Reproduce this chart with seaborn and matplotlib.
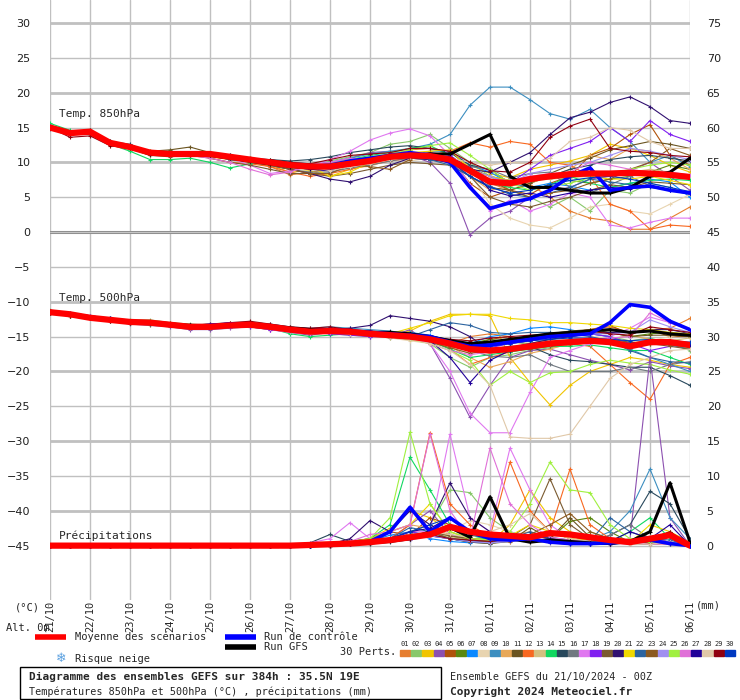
import matplotlib
matplotlib.use("Agg")

import matplotlib.pyplot as plt
import numpy as np
import seaborn as sns
from matplotlib.patches import Rectangle

# ── Data (12h steps, 21/10 00Z -> 06/11 00Z) ──
DATES = ["21/10", "22/10", "23/10", "24/10", "25/10", "26/10", "27/10", "28/10", "29/10",
         "30/10", "31/10", "01/11", "02/11", "03/11", "04/11", "05/11", "06/11"]
STEPS = np.arange(33) * 0.5

COLORS = ["#e67e30", "#88c86a", "#f0c400", "#8c50b0", "#b0520a", "#5a8810", "#0a88ff", "#e8d4b0",
          "#3c8ec0", "#e8a858", "#6a5420", "#f86820", "#d4c080", "#10d860", "#28485c", "#707880",
          "#e078f0", "#8020f0", "#7a5a30", "#301070", "#f0d800", "#2c64a0", "#8c5a20", "#a090f0",
          "#a0f040", "#e070d8", "#200098", "#e0c8a8", "#900010", "#0038c0"]

T850_MEAN = [15.0, 14.2, 14.4, 12.8, 12.2, 11.4, 11.2, 11.2, 11.2, 10.8, 10.4, 10.0, 9.6, 9.4, 9.4, 9.8, 10.2,
             10.8, 11.0, 10.9, 10.4, 8.8, 7.2, 7.0, 7.6, 8.0, 8.3, 8.4, 8.4, 8.5, 8.4, 8.2, 7.9]
T850_CTRL = [15.0, 14.2, 14.4, 12.8, 12.2, 11.4, 11.2, 11.2, 11.2, 10.8, 10.4, 10.0, 9.6, 9.4, 9.6, 10.2, 10.6,
             11.0, 11.4, 11.0, 10.0, 6.4, 3.4, 4.2, 4.8, 6.0, 8.0, 9.2, 6.0, 6.4, 6.6, 6.0, 5.6]
T850_GFS = [15.0, 14.2, 14.4, 12.6, 12.2, 11.2, 11.2, 11.2, 11.0, 10.6, 10.2, 9.8, 9.4, 9.2, 9.4, 9.8, 10.4,
            10.8, 11.0, 11.2, 11.2, 12.6, 14.0, 8.0, 6.4, 6.4, 6.0, 5.6, 5.6, 6.4, 8.0, 8.6, 10.6]
T850_PERTS = [
    "15.2 14.0 14.6 12.6 12.0 11.0 11.5 11.0 11.4 10.4 10.0 9.4 8.2 8.6 9.0 9.6 10.4 11.0 11.8 12.0 11.6 9.0 7.0 6.0 6.8 5.0 3.0 2.0 1.6 0.4 0.4 2.0 3.6",
    "15.4 14.2 14.2 13.0 12.4 11.6 11.0 11.4 11.0 10.8 10.6 10.2 9.8 9.8 10.2 10.8 11.4 12.6 13.0 14.0 12.0 10.0 8.0 6.0 5.0 3.6 5.0 3.0 6.0 5.6 7.0 6.4 5.4",
    "15.0 14.4 14.0 12.6 12.0 11.4 11.0 11.0 10.8 10.4 10.0 9.6 8.6 8.8 8.0 9.0 9.6 10.6 10.8 11.0 10.4 9.6 8.4 7.8 9.0 9.6 10.2 11.0 12.6 12.0 11.0 9.6 8.6",
    "15.2 14.0 14.2 12.8 12.4 11.2 11.4 11.2 11.0 10.8 10.6 10.2 9.4 9.6 10.0 10.6 11.4 11.6 11.0 10.0 7.0 -0.4 2.0 3.0 5.0 6.0 6.4 7.6 8.0 8.8 10.0 8.0 6.0",
    "15.0 14.4 14.6 12.8 12.2 11.2 11.0 11.2 11.2 11.0 10.4 9.8 9.8 9.6 9.4 10.0 10.0 10.4 11.2 11.0 10.6 7.0 5.0 6.0 5.4 7.0 8.0 11.0 12.0 14.0 15.4 11.0 9.6",
    "15.2 14.2 14.4 12.6 12.0 11.4 11.6 11.2 11.4 10.8 10.4 10.0 9.2 9.2 9.6 10.0 10.6 11.0 11.4 11.0 10.8 9.2 8.0 7.4 7.0 8.0 7.4 7.0 7.6 8.0 8.6 9.6 9.0",
    "15.0 14.2 14.2 12.6 12.2 11.4 11.0 11.0 11.0 10.4 10.2 9.8 9.4 9.0 9.0 9.6 10.0 10.6 11.0 11.6 11.6 9.6 8.6 7.0 6.4 7.0 6.6 6.0 6.4 7.0 7.6 7.2 5.0",
    "15.0 14.2 14.0 12.4 12.0 11.0 11.0 11.0 10.8 10.6 10.2 9.6 9.0 9.0 8.6 9.2 9.4 10.4 10.2 10.6 10.0 8.4 4.0 2.0 1.0 0.6 2.0 3.6 4.0 3.0 2.6 4.0 5.4",
    "15.2 14.4 14.4 13.0 12.4 11.6 11.6 11.4 11.2 11.0 10.6 10.2 9.8 9.6 10.0 10.6 11.2 11.6 12.0 12.6 14.0 18.2 20.8 20.8 19.0 17.0 16.2 17.6 15.0 13.0 10.0 11.0 9.4",
    "15.0 14.2 14.2 12.8 12.2 11.6 11.4 11.4 11.2 10.8 10.6 10.2 9.6 9.6 9.6 10.0 10.4 10.8 11.0 10.6 10.0 8.0 6.0 6.6 7.0 8.0 9.0 11.0 10.4 12.0 11.6 10.6 9.0",
    "15.0 14.0 14.2 12.8 12.4 11.6 11.8 12.2 11.4 10.8 10.4 10.0 9.6 9.2 9.6 10.2 10.6 11.0 11.2 10.8 10.0 8.0 6.4 6.0 7.0 8.4 9.6 10.6 11.8 12.4 13.0 12.6 12.0",
    "15.0 14.4 14.2 12.6 12.0 11.2 11.0 11.4 10.6 10.0 9.8 9.4 8.6 8.0 8.4 9.0 9.6 10.2 10.6 11.0 11.6 12.8 12.2 13.0 12.6 10.0 9.6 8.0 4.0 3.0 0.4 1.0 0.8",
    "15.0 14.2 14.4 12.6 12.2 11.4 11.2 11.2 11.0 10.6 10.2 9.8 9.4 9.0 9.2 9.8 10.0 10.6 10.6 10.4 10.0 8.4 7.6 7.0 7.4 7.6 7.8 8.0 8.4 8.6 9.0 8.6 8.0",
    "15.6 14.6 14.0 12.6 11.6 10.4 10.4 10.6 10.0 9.2 9.8 10.4 9.8 9.6 9.6 10.4 11.0 11.4 12.0 12.4 11.0 9.0 7.0 6.4 6.0 6.8 8.0 7.0 6.4 7.0 7.4 7.6 7.4",
    "15.0 14.2 14.6 13.0 12.6 11.4 11.4 11.4 11.4 11.0 10.6 10.4 10.2 10.4 10.8 11.4 11.8 12.2 12.4 12.0 11.4 9.6 9.0 7.0 7.4 8.0 9.0 9.6 10.4 10.8 11.0 10.6 10.2",
    "14.8 14.0 14.2 12.6 12.2 11.0 11.0 11.2 11.0 10.4 10.0 9.6 9.0 8.6 8.6 9.2 9.6 10.2 10.6 10.4 10.2 9.4 9.0 7.8 8.4 8.6 6.4 5.6 6.8 8.0 6.6 6.0 5.4",
    "15.2 14.4 14.4 12.8 12.4 11.6 11.4 11.4 11.2 10.6 9.6 8.4 8.8 9.4 10.4 11.6 13.2 14.2 14.8 13.8 11.0 6.8 3.0 4.6 3.0 4.0 5.6 5.0 1.0 0.6 1.4 2.0 2.0",
    "15.0 14.2 14.4 12.8 12.2 11.4 11.4 11.2 11.2 10.8 10.6 10.2 9.6 9.2 9.2 9.6 10.0 10.6 11.0 11.4 11.0 9.0 8.0 7.0 9.0 11.0 12.0 13.0 15.0 13.0 16.0 14.0 13.0",
    "15.0 14.0 14.2 12.6 12.0 11.0 10.8 11.0 10.6 10.0 9.6 9.0 8.4 8.4 8.0 8.4 9.0 9.6 10.0 9.8 9.6 8.0 5.0 4.0 3.6 4.4 5.0 6.0 6.8 6.4 7.2 7.0 6.8",
    "15.0 14.0 14.2 12.8 12.4 11.4 11.4 11.4 11.2 10.8 10.4 9.6 9.0 8.4 7.6 7.2 8.0 9.6 10.6 10.4 10.0 9.0 8.6 10.0 11.4 14.0 16.4 17.2 18.6 19.4 18.0 16.0 15.6",
    "15.0 14.2 14.4 12.6 12.2 11.6 11.2 11.2 11.2 10.8 10.6 10.2 9.8 9.4 8.0 8.6 10.0 11.0 11.4 11.6 11.8 9.0 8.0 7.4 7.8 8.2 8.6 8.0 7.6 7.6 8.0 7.4 6.8",
    "15.0 14.4 14.6 12.8 12.2 11.4 11.2 11.4 11.2 10.8 10.4 10.2 10.0 9.8 9.6 10.0 10.4 10.8 11.2 10.4 9.6 8.0 6.6 5.4 5.0 5.6 6.4 7.6 7.2 6.8 6.4 6.0 5.6",
    "15.0 14.2 14.6 12.8 12.2 11.2 11.2 11.2 11.0 10.6 10.0 9.6 9.0 8.4 8.4 9.6 9.4 9.0 10.4 11.4 10.6 8.6 7.4 6.0 5.0 5.6 6.0 7.0 7.6 9.0 10.0 12.0 11.0",
    "15.2 14.4 14.4 12.8 12.4 11.4 11.4 11.2 11.0 10.8 10.4 10.2 9.4 9.6 10.0 10.6 10.4 11.2 10.8 11.2 10.4 9.0 8.0 7.0 8.4 9.0 9.6 10.0 11.0 12.0 11.6 11.0 10.4",
    "15.0 14.2 14.2 12.8 12.2 11.4 11.0 11.2 11.0 10.6 10.4 10.0 9.6 9.6 9.8 10.4 10.8 11.2 11.8 12.4 12.8 11.0 9.0 7.0 6.0 6.6 7.0 7.8 8.4 9.0 9.6 10.0 9.6",
    "15.0 14.2 14.4 12.6 12.2 11.2 11.0 11.0 10.6 10.0 9.0 8.2 8.6 9.6 10.0 10.6 10.2 10.6 11.0 11.2 10.4 8.6 7.6 7.4 8.0 8.4 8.6 10.0 9.6 9.0 8.6 8.6 8.2",
    "15.0 14.0 14.2 12.8 12.2 11.4 11.2 11.4 11.0 10.6 10.4 10.0 9.4 9.0 8.8 9.6 10.0 10.6 11.0 11.0 10.8 9.2 6.0 5.2 5.6 5.0 5.6 6.0 6.4 6.2 6.6 6.0 5.6",
    "15.0 14.2 14.2 12.8 12.4 11.4 11.2 11.2 11.0 10.6 10.4 10.0 9.6 9.4 8.8 9.4 9.8 10.4 10.8 11.0 10.6 10.0 9.6 10.0 9.8 10.6 13.0 13.6 15.0 14.6 13.0 12.0 12.0",
    "15.0 13.6 13.8 12.4 12.0 11.2 11.0 11.0 11.0 10.6 10.4 10.4 10.0 9.8 10.4 11.0 11.2 11.4 12.0 12.0 11.6 10.0 8.8 8.6 10.0 13.6 15.2 16.2 12.0 11.6 11.4 11.0 10.8",
    "15.2 14.4 14.4 12.8 12.2 11.4 11.4 11.4 11.2 10.8 10.4 10.0 9.8 9.6 9.4 9.8 10.2 10.6 11.0 10.8 10.2 8.0 6.4 5.6 6.0 6.8 7.4 7.8 8.0 7.6 7.0 6.4 5.8",
]

T500_MEAN = [-11.5, -11.8, -12.3, -12.6, -12.9, -13.0, -13.3, -13.6, -13.6, -13.4, -13.3, -13.6, -14.0, -14.3, -14.2,
             -14.3, -14.6, -14.8, -15.0, -15.4, -16.0, -16.8, -17.0, -16.8, -16.4, -16.0, -15.8, -15.6, -15.8, -16.4,
             -15.8, -15.8, -16.2]
T500_CTRL = [-11.5, -11.8, -12.2, -12.6, -12.8, -13.0, -13.2, -13.6, -13.4, -13.2, -13.2, -13.6, -14.0, -14.2, -14.0,
             -14.2, -14.4, -14.6, -14.8, -15.0, -15.8, -16.4, -16.2, -15.8, -15.4, -15.0, -14.8, -14.6, -13.0, -10.4,
             -10.8, -12.8, -14.0]
T500_GFS = [-11.4, -11.8, -12.2, -12.6, -12.8, -13.0, -13.2, -13.4, -13.4, -13.2, -13.2, -13.6, -13.8, -14.0, -14.0,
            -14.2, -14.4, -14.4, -14.6, -15.0, -15.6, -16.0, -15.8, -15.4, -15.0, -14.6, -14.4, -14.2, -14.0, -14.4,
            -14.2, -14.6, -14.8]
T500_PERTS = [
    "-11.4 -12.0 -12.4 -12.4 -13.0 -13.2 -13.0 -13.4 -13.8 -13.0 -13.0 -13.4 -14.0 -14.6 -14.0 -14.4 -14.8 -15.0 -14.4 -15.6 -16.0 -15.0 -14.6 -15.0 -15.6 -14.8 -14.4 -14.0 -13.6 -14.4 -14.0 -13.8 -12.4",
    "-11.2 -11.6 -12.2 -12.4 -12.6 -12.6 -13.0 -13.2 -13.4 -13.2 -13.0 -13.4 -13.6 -14.0 -14.6 -14.8 -15.0 -14.4 -14.6 -16.0 -18.0 -19.4 -18.0 -17.6 -17.0 -16.6 -16.2 -15.4 -15.0 -15.6 -15.2 -16.0 -17.0",
    "-11.6 -12.0 -12.4 -12.8 -13.0 -13.4 -13.4 -13.8 -13.4 -13.2 -13.6 -14.0 -14.2 -14.0 -13.8 -14.2 -14.4 -14.6 -14.2 -12.8 -11.8 -11.8 -12.0 -18.0 -21.6 -24.8 -22.0 -20.0 -19.0 -18.0 -18.4 -19.0 -19.4",
    "-11.6 -12.0 -12.4 -12.8 -13.2 -13.4 -13.6 -14.0 -14.0 -13.8 -13.6 -14.0 -14.4 -14.8 -14.4 -14.6 -15.0 -15.0 -14.0 -16.0 -21.0 -26.6 -22.0 -18.0 -17.0 -16.8 -17.6 -18.4 -19.0 -19.8 -18.6 -19.2 -19.6",
    "-11.4 -11.8 -12.2 -12.4 -12.8 -12.8 -13.0 -13.4 -13.2 -13.0 -13.0 -13.4 -13.6 -14.0 -14.0 -14.4 -14.4 -14.8 -15.0 -15.6 -16.2 -16.4 -15.4 -15.0 -15.6 -15.0 -14.4 -14.0 -13.4 -14.6 -14.0 -15.0 -15.0",
    "-11.6 -11.8 -12.4 -12.6 -13.0 -13.0 -13.2 -13.6 -13.8 -13.4 -13.4 -13.8 -14.2 -14.6 -14.4 -14.6 -14.8 -15.2 -15.4 -15.8 -16.4 -16.0 -15.4 -15.8 -16.0 -15.4 -15.0 -14.6 -14.4 -15.0 -14.6 -14.4 -14.8",
    "-11.4 -11.8 -12.0 -12.4 -12.8 -13.0 -13.2 -13.4 -13.4 -13.2 -13.2 -13.4 -13.8 -14.0 -14.0 -14.2 -14.4 -14.6 -14.4 -14.8 -15.6 -16.0 -15.0 -14.6 -13.8 -13.6 -14.0 -14.6 -15.0 -16.0 -15.4 -16.2 -16.8",
    "-11.4 -11.6 -12.2 -12.6 -13.0 -13.2 -13.4 -13.4 -13.2 -13.0 -13.2 -13.8 -14.2 -14.4 -14.4 -14.6 -14.8 -15.2 -15.6 -16.0 -16.6 -17.4 -17.0 -16.4 -16.0 -15.6 -15.4 -15.0 -15.2 -15.8 -15.6 -15.0 -14.6",
    "-11.6 -11.8 -12.4 -12.8 -13.0 -13.2 -13.4 -13.6 -13.4 -13.2 -13.0 -13.2 -13.6 -13.8 -13.6 -13.8 -14.0 -14.2 -14.6 -15.0 -15.4 -16.0 -16.4 -16.0 -15.6 -15.2 -14.8 -14.6 -15.0 -16.8 -18.0 -19.0 -20.0",
    "-11.4 -11.8 -12.2 -12.6 -12.8 -13.0 -13.4 -13.8 -13.6 -13.6 -13.4 -13.6 -14.0 -14.4 -14.2 -14.4 -14.8 -15.0 -15.4 -15.8 -16.4 -18.0 -19.4 -18.6 -17.4 -16.8 -16.0 -15.8 -15.4 -14.8 -15.4 -16.0 -16.4",
    "-11.6 -12.0 -12.4 -12.8 -13.0 -13.0 -13.2 -13.4 -13.4 -13.2 -13.2 -13.6 -14.0 -14.2 -14.0 -14.2 -14.4 -14.4 -14.8 -15.4 -16.4 -17.0 -16.2 -15.8 -15.0 -14.6 -14.2 -14.0 -14.4 -15.0 -14.8 -14.8 -15.0",
    "-11.6 -11.8 -12.2 -12.6 -12.8 -13.0 -13.2 -13.6 -13.6 -13.4 -13.4 -13.8 -14.2 -14.4 -14.4 -14.4 -14.6 -14.8 -15.0 -15.4 -16.8 -19.0 -18.0 -17.2 -16.6 -16.2 -16.0 -16.4 -19.0 -21.6 -24.0 -19.0 -18.0",
    "-11.4 -11.8 -12.2 -12.6 -12.8 -13.0 -13.4 -13.6 -13.6 -13.6 -13.4 -13.6 -14.0 -14.4 -14.4 -14.6 -14.8 -15.0 -15.2 -15.6 -16.2 -16.8 -17.4 -17.0 -16.6 -16.2 -15.6 -15.4 -15.6 -15.8 -16.0 -15.6 -15.2",
    "-11.6 -12.0 -12.2 -12.6 -13.0 -13.2 -13.4 -13.6 -13.6 -13.4 -13.4 -13.8 -14.6 -15.0 -14.8 -14.6 -14.8 -15.0 -15.2 -15.6 -16.8 -18.0 -17.6 -17.2 -16.8 -16.4 -16.4 -16.2 -16.6 -17.0 -17.0 -18.0 -19.0",
    "-11.4 -11.8 -12.2 -12.6 -12.8 -13.0 -13.2 -13.4 -13.4 -13.2 -13.2 -13.6 -14.0 -14.2 -14.2 -14.4 -14.6 -14.8 -15.0 -15.4 -16.0 -16.6 -16.8 -16.4 -16.4 -17.6 -18.4 -18.6 -19.0 -19.4 -19.4 -20.6 -22.0",
    "-11.6 -11.8 -12.2 -12.6 -12.8 -13.0 -13.4 -13.6 -13.6 -13.4 -13.4 -13.8 -14.0 -14.2 -14.2 -14.4 -14.8 -15.0 -15.2 -15.6 -16.2 -17.0 -17.8 -18.0 -17.6 -19.0 -20.0 -20.0 -20.0 -19.4 -20.0 -19.0 -18.6",
    "-11.4 -11.6 -12.0 -12.4 -12.8 -13.0 -13.2 -13.4 -13.4 -13.2 -13.4 -14.0 -14.4 -14.6 -14.4 -14.4 -14.6 -14.8 -15.0 -16.0 -20.0 -26.0 -28.8 -28.8 -23.0 -18.0 -17.0 -16.0 -15.0 -13.8 -12.2 -13.0 -14.0",
    "-11.4 -11.8 -12.2 -12.6 -12.8 -13.0 -13.4 -13.6 -13.6 -13.6 -13.6 -14.0 -14.2 -14.4 -14.6 -14.8 -15.0 -15.0 -15.2 -15.6 -16.0 -16.4 -16.6 -16.0 -15.6 -15.0 -14.6 -14.6 -15.0 -16.0 -17.0 -16.4 -16.0",
    "-11.6 -11.8 -12.4 -12.8 -13.0 -13.2 -13.4 -13.6 -13.6 -13.4 -13.2 -13.4 -13.8 -14.2 -14.2 -14.4 -14.6 -14.8 -15.0 -15.4 -16.0 -16.6 -16.8 -16.6 -16.2 -15.8 -15.8 -15.6 -15.4 -15.8 -16.0 -16.4 -16.8",
    "-11.4 -11.6 -12.0 -12.4 -12.8 -13.0 -13.2 -13.4 -13.2 -13.2 -13.0 -13.6 -14.0 -14.2 -14.0 -13.8 -13.4 -12.0 -12.4 -12.8 -13.6 -15.0 -17.0 -16.6 -16.0 -15.4 -15.0 -14.6 -14.4 -14.4 -14.0 -14.0 -14.6",
    "-11.6 -11.8 -12.4 -12.6 -13.0 -13.2 -13.4 -13.6 -13.6 -13.4 -13.4 -13.6 -14.0 -14.2 -14.2 -14.4 -14.4 -14.6 -13.8 -13.0 -12.0 -11.8 -11.8 -12.4 -12.6 -13.0 -13.0 -13.2 -13.4 -13.8 -14.0 -14.4 -14.6",
    "-11.4 -11.8 -12.2 -12.4 -12.8 -13.0 -13.2 -13.4 -13.4 -13.2 -13.2 -13.6 -14.0 -14.2 -14.2 -14.2 -14.6 -14.8 -15.0 -14.0 -13.0 -13.4 -14.4 -14.6 -14.4 -14.4 -14.6 -15.0 -15.6 -17.0 -18.0 -18.6 -18.8",
    "-11.6 -12.0 -12.4 -12.6 -12.8 -13.0 -13.2 -13.6 -13.6 -13.4 -13.2 -13.6 -14.0 -14.2 -14.0 -14.2 -14.6 -14.8 -15.2 -15.8 -16.6 -17.4 -17.0 -16.8 -16.8 -16.4 -16.0 -15.8 -16.0 -16.4 -16.0 -16.2 -16.6",
    "-11.4 -11.6 -12.0 -12.4 -12.8 -13.0 -13.2 -13.4 -13.4 -13.2 -13.2 -13.6 -14.0 -14.0 -14.0 -14.2 -14.4 -14.6 -14.8 -15.0 -15.6 -16.0 -15.8 -15.6 -15.4 -15.0 -14.8 -14.6 -14.6 -14.4 -12.6 -13.6 -14.4",
    "-11.6 -11.8 -12.2 -12.6 -13.0 -13.2 -13.4 -13.6 -13.6 -13.4 -13.4 -13.8 -14.2 -14.4 -14.4 -14.6 -14.8 -15.0 -15.4 -16.0 -17.0 -18.4 -22.0 -20.0 -21.6 -20.2 -20.0 -19.0 -18.4 -18.8 -19.0 -19.8 -20.4",
    "-11.4 -11.8 -12.2 -12.6 -12.8 -13.0 -13.2 -13.6 -13.6 -13.4 -13.4 -13.8 -14.0 -14.4 -14.4 -14.6 -14.8 -15.0 -15.2 -16.0 -17.0 -17.6 -17.2 -16.8 -16.4 -16.0 -15.6 -15.4 -15.2 -15.0 -11.6 -13.0 -14.0",
    "-11.6 -11.8 -12.2 -12.6 -13.0 -13.2 -13.4 -13.6 -13.4 -13.2 -13.2 -13.6 -14.0 -14.2 -14.2 -14.4 -14.8 -14.8 -15.0 -15.6 -18.0 -21.6 -18.4 -17.0 -16.2 -15.8 -15.6 -15.6 -15.8 -16.0 -15.6 -15.8 -16.2",
    "-11.4 -11.8 -12.2 -12.6 -12.8 -13.0 -13.4 -13.6 -13.6 -13.4 -13.4 -13.8 -14.2 -14.4 -14.4 -14.6 -14.8 -15.0 -15.4 -16.0 -17.0 -19.0 -22.0 -29.4 -29.6 -29.6 -29.0 -25.0 -21.0 -19.0 -18.0 -17.0 -16.8",
    "-11.6 -12.0 -12.4 -12.8 -13.0 -13.0 -13.2 -13.4 -13.4 -13.0 -12.8 -13.2 -13.6 -13.8 -13.6 -14.0 -14.2 -14.4 -14.6 -15.0 -15.4 -15.6 -15.2 -15.0 -14.8 -14.6 -14.4 -14.2 -14.6 -14.8 -13.6 -14.0 -14.4",
    "-11.4 -11.8 -12.2 -12.4 -12.8 -13.0 -13.2 -13.4 -13.4 -13.2 -13.2 -13.6 -14.0 -14.2 -14.2 -14.4 -14.6 -14.8 -15.0 -15.4 -16.0 -16.4 -16.4 -16.0 -15.6 -15.4 -15.2 -15.2 -15.4 -15.6 -15.4 -15.6 -15.8",
]

# precipitation (mm), right axis
PR_MEAN = [0, 0, 0, 0, 0, 0, 0, 0, 0, 0, 0, 0, 0, 0.1, 0.2, 0.3, 0.5, 0.8, 1.2, 1.6, 2.7, 2.0, 1.6, 1.4, 1.2,
           1.8, 1.6, 1.2, 0.8, 0.5, 1.0, 1.5, 0.0]
PR_CTRL = [0, 0, 0, 0, 0, 0, 0, 0, 0, 0, 0, 0, 0, 0, 0.2, 0.3, 0.6, 2, 5.5, 2, 4, 2, 1, 0.8, 1, 0.5, 0.3, 0.3,
           0.4, 0.6, 0.8, 0.3, 0]
PR_GFS = [0, 0, 0, 0, 0, 0, 0, 0, 0, 0, 0, 0, 0, 0, 0.1, 0.3, 0.4, 0.6, 1, 2, 2.6, 1.2, 7, 1, 0.5, 0.8, 0.6,
          0.4, 0.3, 0.6, 2, 9, 0.5]
PR_PERTS = [
    "0 0 0 0 0 0 0 0 0 0 0 0 0 0 0.2 0.5 1 0.8 2 3 1.5 1 0.5 2 1 0.5 0.3 0.8 1 0.5 0.2 0.4 0.2",
    "0 0 0 0 0 0 0 0 0 0 0 0 0 0 0 0.3 0.5 1 2 3 8 7.6 4 2 1 0.5 0.3 2 1 0.5 0.2 0.5 0",
    "0 0 0 0 0 0 0 0 0 0 0 0 0 0 0.2 0.4 1 2.5 5 4 2 1 0.5 3 8 4 2 1 0.5 0.3 1 2 0.5",
    "0 0 0 0 0 0 0 0 0 0 0 0 0 0 0 0.2 0.6 1 3 5 1.6 1 0.6 0.8 1 0.4 0.2 0.3 0.2 1 27 4 0",
    "0 0 0 0 0 0 0 0 0 0 0 0 0 0 0.3 0.6 1 2 1.5 4 3 2 1 0.5 1.5 2 1 0.5 0.3 0.5 1 0.5 0",
    "0 0 0 0 0 0 0 0 0 0 0 0 0 0 0 0.2 0.4 1 1.4 2 1.4 0.8 0.6 1 1.5 1 3.5 4 2 0.5 0.3 0.4 0",
    "0 0 0 0 0 0 0 0 0 0 0 0 0 0 0.2 0.3 0.6 1.5 2 1 0.6 0.4 0.8 2 1 0.6 0.4 0.3 0.2 0.5 0.8 0.4 0",
    "0 0 0 0 0 0 0 0 0 0 0 0 0 0 0 0.2 0.4 0.8 1 1.4 2 3.6 3 2 1 0.5 0.3 1 0.6 0.3 1 0.5 0",
    "0 0 0 0 0 0 0 0 0 0 0 0 0 0 0 0.3 0.6 1 2 1.5 1 0.5 0.3 0.8 1 0.5 0.3 0.8 2 5 11 4 1",
    "0 0 0 0 0 0 0 0 0 0 0 0 0 0 0.2 0.6 1 2 3 2.5 1.4 1 1 1.5 2 1 0.6 1.5 1 0.4 0.6 0.3 0",
    "0 0 0 0 0 0 0 0 0 0 0 0 0 0 0 0.2 0.3 0.6 1 2 1 0.5 0.3 0.6 2.6 1 4 1.2 0.6 0.3 0.2 0.4 0",
    "0 0 0 0 0 0 0 0 0 0 0 0 0 0 0 0.2 0.5 1 3 16.2 6 3 1.2 12 5 2 11 3 1 0.5 0.3 0.2 0",
    "0 0 0 0 0 0 0 0 0 0 0 0 0 0 0.2 0.4 0.8 1 1.6 2 1.2 0.8 0.6 1 1.4 1 0.6 0.5 0.4 1 0.6 0.3 0",
    "0 0 0 0 0 0 0 0 0 0 0 0 0 0 0.3 0.6 1 3 12.7 8 3 1.5 0.8 1.2 1 0.6 0.4 0.3 0.6 2 4 1 0",
    "0 0 0 0 0 0 0 0 0 0 0 0 0 0.4 1.6 0.6 0.3 0.5 1 1.4 1 0.6 0.4 0.8 1 0.6 0.4 0.3 1.5 3 7.8 6 1",
    "0 0 0 0 0 0 0 0 0 0 0 0 0 0 0 0.2 0.3 0.6 1 1.6 1 0.6 0.4 0.6 1 0.5 0.3 0.5 1.5 3 1 0.5 0",
    "0 0 0 0 0 0 0 0 0 0 0 0 0 0.4 1 3.3 1 0.6 2 2 16 4 2 14 8 3 1 0.5 0.3 0.4 0.2 0.3 0",
    "0 0 0 0 0 0 0 0 0 0 0 0 0 0 0 0.3 0.5 1 2 1.4 1 0.6 0.5 0.8 1 0.6 0.4 0.3 0.2 0.6 1 0.5 0",
    "0 0 0 0 0 0 0 0 0 0 0 0 0 0 0 0.2 0.4 0.6 1 2 1.4 1 0.8 1.2 3 9.6 3 1 0.5 0.4 0.6 0.3 0",
    "0 0 0 0 0 0 0 0 0 0 0 0 0 0 0.2 1 3.6 2 5 3 9 4 2 1 0.8 0.6 0.4 0.3 0.2 0.6 1 0.5 0",
    "0 0 0 0 0 0 0 0 0 0 0 0 0 0 0.2 0.5 1 2 3 6 2 1 0.8 1.4 3 2 1 0.8 0.6 0.4 3 2 0",
    "0 0 0 0 0 0 0 0 0 0 0 0 0 0 0 0.2 0.4 1 2.6 2 1 0.6 0.5 1 2 1.2 0.8 0.6 4 2 1 0.8 0",
    "0 0 0 0 0 0 0 0 0 0 0 0 0 0 0.2 0.4 0.6 1 1.4 2 1 0.8 0.6 1 1.6 3 4.6 2 1 0.6 0.4 2 0",
    "0 0 0 0 0 0 0 0 0 0 0 0 0 0 0 0.2 0.4 0.6 0.8 1.4 1 0.6 0.4 0.6 1 0.8 0.5 0.3 0.2 0.4 0.8 0.5 0",
    "0 0 0 0 0 0 0 0 0 0 0 0 0 0 0.2 0.4 1 4 16.3 6 2 1 0.8 2 6 12 8 7.6 3 1 0.5 0.3 0",
    "0 0 0 0 0 0 0 0 0 0 0 0 0 0 0.3 0.6 1.6 2 3 16 5 1 14 6 3 1.2 0.8 0.6 0.4 0.2 1 0.5 0",
    "0 0 0 0 0 0 0 0 0 0 0 0 0 0 0.2 0.4 0.6 1 2 2.5 4 1.6 1 0.8 1 0.6 0.4 0.3 0.6 2 1 3 0",
    "0 0 0 0 0 0 0 0 0 0 0 0 0 0 0.2 0.3 0.6 1 1.4 2 1.6 1.2 2 3 4.6 2 1 0.6 0.4 0.3 0.2 0.5 0",
    "0 0 0 0 0 0 0 0 0 0 0 0 0 0 0 0.2 0.4 0.6 1 1.6 1 0.8 0.6 1 1.4 1 0.6 0.4 0.3 0.6 1 2 0",
    "0 0 0 0 0 0 0 0 0 0 0 0 0 0 0.2 0.3 0.6 1 2 3 4 2 1 0.8 1.6 1 0.5 0.3 0.2 0.6 1 0.4 0",
]

W, H = 740, 700
MONO = "DejaVu Sans Mono"


def px(x, y):
    return x / W, 1 - y / H


def parse(s):
    return [float(v) for v in s.split()]


def draw(ax, y, color, lw, marker="+", ms=3, z=2):
    sns.lineplot(x=STEPS, y=y, ax=ax, color=color, lw=lw, marker=marker, markersize=ms,
                 markeredgewidth=0.8, markeredgecolor=color, estimator=None, zorder=z)


sns.set_theme(style="white")
fig = plt.figure(figsize=(W / 100, H / 100), dpi=100)
ax = fig.add_axes([50 / W, 100 / H, 640 / W, 600 / H])
YLO, YHI = -52.8, 33.3
ax.set_xlim(0, 16)
ax.set_ylim(YLO, YHI)

# grid
for v in range(-45, 31, 5):
    if v == 0:
        ax.axhline(v, color="#909090", lw=2.2, zorder=1)
        ax.axhline(v, color="#d0d0d0", lw=0.6, zorder=1)
    else:
        ax.axhline(v, color="#c0c0c0", lw=2.0 if v % 10 == 0 else 1.0, zorder=0)
for d in range(17):
    ax.axvline(d, color="#c0c0c0", lw=1.0, zorder=0)

# precipitation axis
ax2 = ax.twinx()
ax2.set_ylim(YLO + 45, YHI + 45)

for i, c in enumerate(COLORS):
    draw(ax, parse(T850_PERTS[i]), c, 0.8)
    draw(ax, parse(T500_PERTS[i]), c, 0.8)
    draw(ax2, parse(PR_PERTS[i]), c, 0.8)

for a, series in ((ax, T850_GFS), (ax, T500_GFS), (ax2, PR_GFS)):
    draw(a, series, "black", 2.2, z=3)
for a, series in ((ax, T850_CTRL), (ax, T500_CTRL), (ax2, PR_CTRL)):
    draw(a, series, "#0000ff", 2.6, z=4)
for a, series in ((ax, T850_MEAN), (ax, T500_MEAN), (ax2, PR_MEAN)):
    sns.lineplot(x=STEPS, y=series, ax=a, color="#ff0000", lw=4.5, estimator=None, zorder=5)

for a in (ax, ax2):
    for s in a.spines.values():
        s.set_visible(False)
    a.set_xticks([])
    a.set_xlabel("")
    a.set_ylabel("")
ax.set_yticks(range(-45, 31, 5))
ax.tick_params(axis="y", length=0, pad=14, labelsize=8)
ax2.set_yticks(range(0, 76, 5))
ax2.tick_params(axis="y", length=0, pad=12, labelsize=8)
for lab in ax.get_yticklabels() + ax2.get_yticklabels():
    lab.set_fontfamily("DejaVu Sans")
    lab.set_color("#202020")

# panel labels
for text, y in (("Temp. 850hPa", 114), ("Temp. 500hPa", 298), ("Précipitations", 536)):
    fig.text(*px(59, y), text, fontsize=8, family=MONO, va="center")

# date labels
for d, lab in enumerate(DATES):
    fig.text(*px(50 + 40 * d, 601), lab, rotation=90, fontsize=7.5, family=MONO, ha="center", va="top")
fig.text(*px(15, 608), "(°C)", fontsize=7.5, family=MONO, va="center")
fig.text(*px(696, 606), "(mm)", fontsize=7.5, family=MONO, va="center")
fig.text(*px(6, 628), "Alt. 0m", fontsize=7.5, family=MONO, va="center")

# legend
fig.add_artist(plt.Line2D([35 / W, 66 / W], [1 - 637 / H] * 2, color="#ff0000", lw=4, solid_capstyle="butt"))
fig.text(*px(75, 637), "Moyenne des scénarios", fontsize=7.5, family=MONO, va="center")
fig.add_artist(plt.Line2D([225 / W, 256 / W], [1 - 637 / H] * 2, color="#0000ff", lw=4, solid_capstyle="butt"))
fig.text(*px(264, 637), "Run de contrôle", fontsize=7.5, family=MONO, va="center")
fig.add_artist(plt.Line2D([225 / W, 256 / W], [1 - 647 / H] * 2, color="black", lw=4, solid_capstyle="butt"))
fig.text(*px(264, 647), "Run GFS", fontsize=7.5, family=MONO, va="center")
fig.text(*px(61, 658), "❄", fontsize=9, color="#5aa0e0", family="DejaVu Sans", va="center", ha="center")
fig.text(*px(75, 659), "Risque neige", fontsize=7.5, family=MONO, va="center")
fig.text(*px(340, 652), "30 Perts.", fontsize=7.5, family=MONO, va="center")
for i, c in enumerate(COLORS):
    x0 = 400 + i * 11.2
    fig.text(*px(x0 + 5, 644), f"{i + 1:02d}", fontsize=5, family=MONO, ha="center", va="center")
    fig.add_artist(Rectangle(px(x0, 656), 10.2 / W, 6 / H, color=c))

fig.add_artist(Rectangle(px(20, 699), 421 / W, 32 / H, fill=False, ec="black", lw=1))
fig.text(*px(29, 677), "Diagramme des ensembles GEFS sur 384h : 35.5N 19E", fontsize=8,
         family=MONO, weight="bold", va="center")
fig.text(*px(29, 692), "Températures 850hPa et 500hPa (°C) , précipitations (mm)", fontsize=7.3,
         family=MONO, va="center")
fig.text(*px(450, 677), "Ensemble GEFS du 21/10/2024 - 00Z", fontsize=7.3, family=MONO, va="center")
fig.text(*px(450, 692), "Copyright 2024 Meteociel.fr", fontsize=8, family=MONO, weight="bold", va="center")

fig.savefig("out.png", dpi=100, facecolor="white")
